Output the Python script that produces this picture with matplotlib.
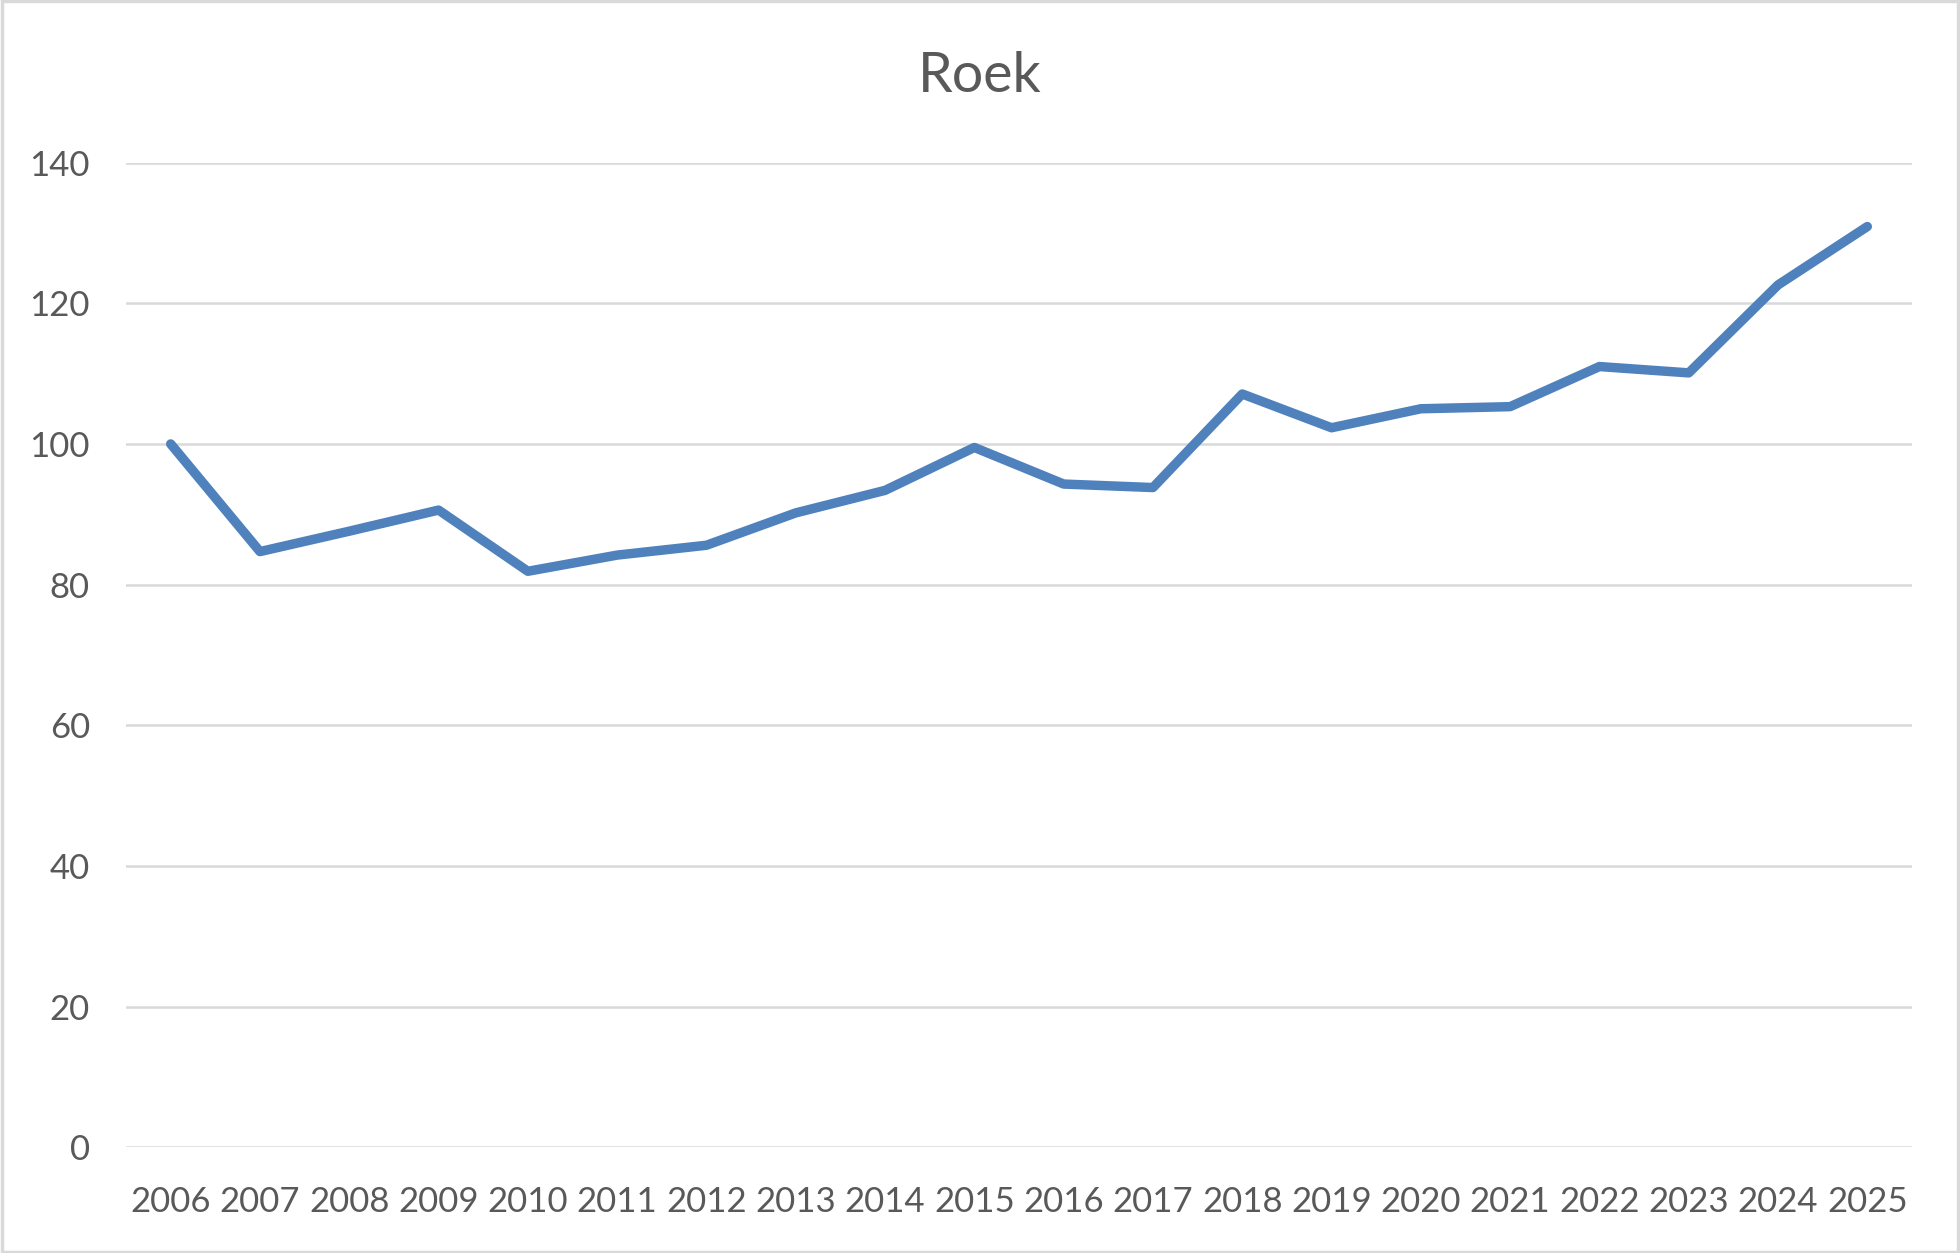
import matplotlib.pyplot as plt
from matplotlib.patches import Rectangle

plt.rcParams['font.family'] = ['Lato', 'DejaVu Sans']

years = [str(y) for y in range(2006, 2026)]
index_values = [100, 84.7, 87.6, 90.6, 81.9, 84.2, 85.6, 90.2, 93.4, 99.5,
                94.3, 93.8, 107.1, 102.3, 105.0, 105.3, 111.0, 110.1, 122.6, 130.9]
y_ticks = [0, 20, 40, 60, 80, 100, 120, 140]

text_grey = '#595959'
grid_grey = '#D9D9D9'
line_blue = '#4F81BD'

fig = plt.figure(figsize=(19.6, 12.53), dpi=100)
ax = fig.add_axes([0.0643, 0.0842, 0.9112, 0.7861])

# the series
ax.plot(range(len(years)), index_values, color=line_blue, lw=6.8,
        solid_capstyle='round', solid_joinstyle='round', zorder=3)

ax.set_xlim(-0.5, len(years) - 0.5)
ax.set_ylim(0, 140)
ax.set_xticks(range(len(years)))
ax.set_xticklabels(years)
ax.set_yticks(y_ticks)

ax.grid(axis='y', color=grid_grey, lw=1.8)
ax.set_axisbelow(True)
for s in ax.spines.values():
    s.set_visible(False)
ax.tick_params(axis='both', length=0, labelsize=25, labelcolor=text_grey)
ax.tick_params(axis='y', pad=26)
ax.tick_params(axis='x', pad=28)

fig.text(0.5, 1 - 77 / 1253, 'Roek', ha='center', va='center',
         fontsize=40, color=text_grey)

# chart area border
fig.patches.append(Rectangle((0.001, 0.001), 0.998, 0.998, transform=fig.transFigure,
                             fill=False, edgecolor=grid_grey, lw=2.5))

fig.savefig('out.png', dpi=100)
